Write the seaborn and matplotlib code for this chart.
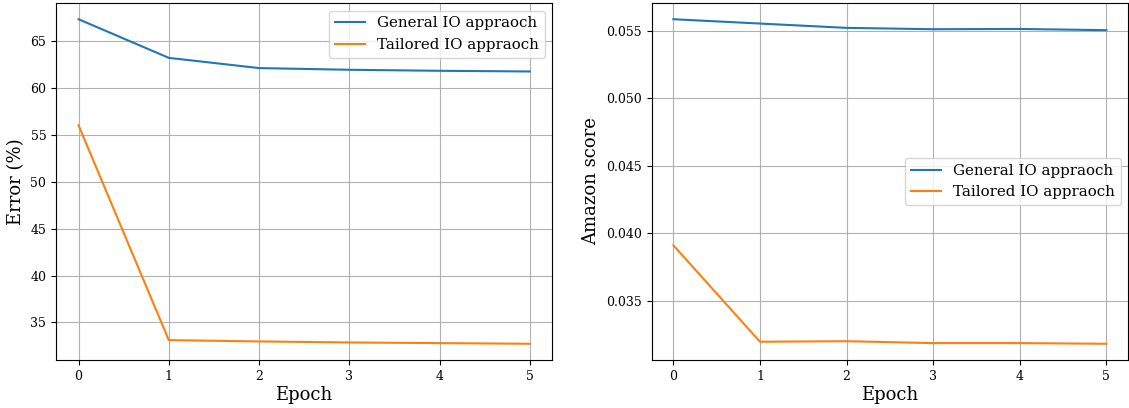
import matplotlib
matplotlib.use("Agg")
import matplotlib.pyplot as plt
import seaborn as sns
import pandas as pd

epochs = [0, 1, 2, 3, 4, 5]
general_error = [67.34, 63.22, 62.13, 61.95, 61.84, 61.77]
tailored_error = [56.02, 33.12, 32.98, 32.87, 32.80, 32.73]
general_amazon = [0.05584, 0.05552, 0.05520, 0.05510, 0.05512, 0.05503]
tailored_amazon = [0.03911, 0.03197, 0.03201, 0.03187, 0.03187, 0.03182]
series_names = ["General IO appraoch", "Tailored IO appraoch"]

plt.rcParams['font.family'] = ['DejaVu Serif']

fig, axes = plt.subplots(1, 2, figsize=(11.29, 4.08), dpi=100)
axes[0].set_position([56/1129, 1-360/408, (552.3-56)/1129, (360-3)/408])
axes[1].set_position([651.7/1129, 1-360/408, (1128-651.7)/1129, (360-3)/408])

colors = ["#1f77b4", "#ff7f0e"]

def make_df(a, b):
    return pd.DataFrame({
        "Epoch": epochs + epochs,
        "value": a + b,
        "series": [series_names[0]] * len(epochs) + [series_names[1]] * len(epochs),
    })

df1 = make_df(general_error, tailored_error)
df2 = make_df(general_amazon, tailored_amazon)

for ax, df, ylabel, loc in [(axes[0], df1, "Error (%)", "upper right"),
                            (axes[1], df2, "Amazon score", "center right")]:
    sns.lineplot(data=df, x="Epoch", y="value", hue="series", palette=colors,
                 ax=ax, linewidth=1.5)
    ax.grid(True, color="#b0b0b0", linewidth=0.8)
    ax.set_axisbelow(True)
    ax.set_xlabel("Epoch", fontsize=13, labelpad=2)
    ax.set_ylabel(ylabel, fontsize=13)
    ax.tick_params(labelsize=9)
    ax.set_xticks(epochs)
    ax.legend(title=None, loc=loc, fontsize=10.8)

axes[1].set_yticks([0.035, 0.040, 0.045, 0.050, 0.055])
axes[1].set_yticklabels(["0.035", "0.040", "0.045", "0.050", "0.055"])

fig.savefig("out.png", dpi=100)
